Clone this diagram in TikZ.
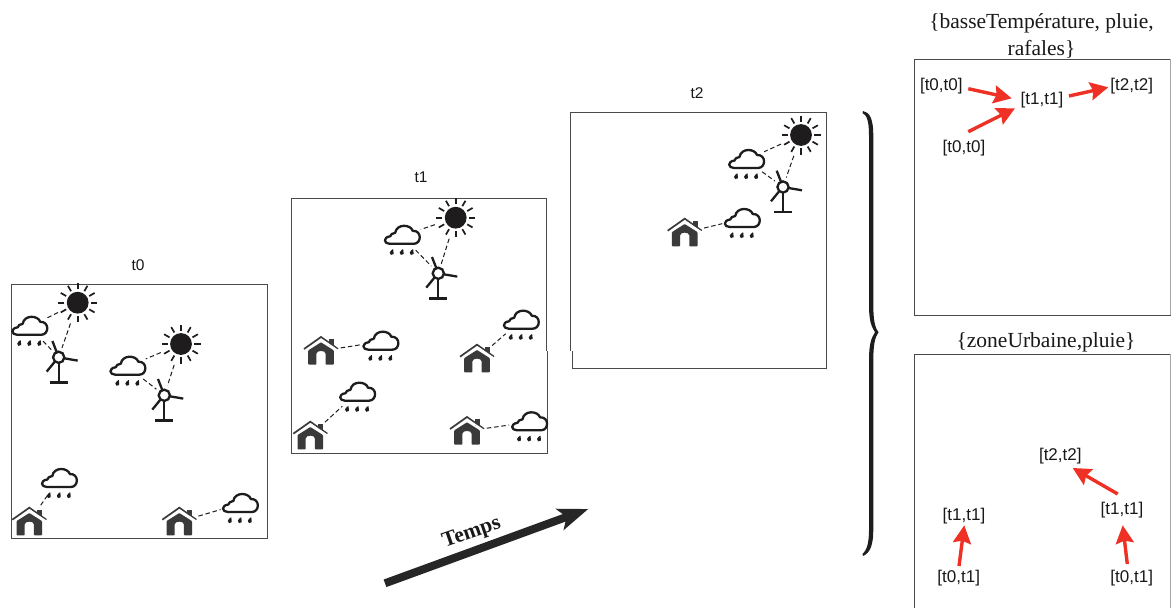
\documentclass[tikz,border=0pt]{standalone}
\usepackage{fontspec}
\setmainfont{Liberation Serif}
\newfontfamily\helv{Liberation Sans}
\usetikzlibrary{arrows.meta}
\definecolor{redarrow}{HTML}{EE3124}
\definecolor{iconblack}{HTML}{1E1C1D}
\definecolor{housegrey}{HTML}{3A3A3A}
\definecolor{framegrey}{HTML}{4A4A4A}
\tikzset{
  hit/.style={circle,inner sep=0pt,outer sep=0pt},
  frameline/.style={draw=framegrey,line width=1pt},
  link/.style={draw=iconblack,line width=1pt,dash pattern=on 4.5pt off 2.8pt},
  stamp/.style={font=\helv\fontsize{15.5}{17}\selectfont,text=black!90,inner sep=0pt},
  pairlabel/.style={font=\helv\fontsize{17}{19}\selectfont,text=black!90,inner sep=0pt,text height=14pt,text depth=3.2pt},
  settitle/.style={font=\fontsize{21.5}{26.5}\selectfont,text=black!90,inner sep=0pt,align=center},
  redlink/.style={draw=redarrow,line width=3.4pt,-{Stealth[length=18pt,width=18pt,inset=2.5pt]}},
  sunicon/.pic={
    \fill[iconblack] (0,0) circle (10.9);
    \foreach \a in {0,30,...,330}{\draw[iconblack,line width=1.7pt] (\a:13.3) -- (\a:19.5);}
  },
  cloudicon/.pic={
    \draw[iconblack,line width=2.3pt,line join=round]
      (-12,8) -- (12,8) .. controls (20,8) and (20.5,-5.5) .. (11,-5)
      .. controls (9,-11.5) and (-5,-12.5) .. (-6.5,-3)
      .. controls (-9.5,-3) and (-11,-1) .. (-11.5,0.5)
      .. controls (-19,1.5) and (-18,8) .. (-12,8) -- cycle;
    \foreach \d in {-10,0,10}{
      \fill[iconblack] (\d+1.4,13.2) .. controls (\d+0.9,15) and (\d+2.7,16.5) .. (\d+1.9,18.2)
        .. controls (\d+0.6,20.2) and (\d-2.6,19) .. (\d-2,16.8) .. controls (\d-1.6,15.4) and (\d,14) .. (\d+1.4,13.2) -- cycle;
    }
  },
  windicon/.pic={
    \draw[iconblack,line width=2.3pt] (0,6) -- (0,25) (-9,25.3) -- (9,25.3);
    \draw[iconblack,line width=2.3pt] (-2,-5.2) -- (-6.3,-16.3) (5.5,1) -- (19,3.3) (-4,4.5) -- (-12,14.3);
    \draw[iconblack,line width=2.3pt,fill=white] (0,0) circle (5.6);
  },
  houseicon/.pic={
    \draw[housegrey,line width=1.7pt] (-17,-2) -- (0,-14) -- (17,-2);
    \fill[housegrey] (8,-12) rectangle (13,-5.5);
    \draw[white,line width=1.4pt] (0,-11.9) -- (17,-0.5);
    \fill[housegrey,rounded corners=0.8pt] (0,-8.7) -- (12.8,-0.6) -- (12.8,13.7) -- (4.6,13.7) -- (4.6,3.5)
      .. controls (4.6,-1) and (-4.6,-1) .. (-4.6,3.5) -- (-4.6,13.7) -- (-12.8,13.7) -- (-12.8,-0.6) -- cycle;
  },
}
\newcommand\sunat[2]{\node[hit,minimum size=44pt] (#1) at (#2) {}; \pic at (#2) {sunicon};}
\newcommand\cloudat[2]{\node[hit,minimum size=40pt] (#1) at (#2) {}; \pic at (#2) {cloudicon};}
\newcommand\windat[2]{\node[hit,minimum size=20pt] (#1) at (#2) {}; \pic at (#2) {windicon};}
\newcommand\houseat[2]{\node[hit,minimum size=40pt] (#1) at (#2) {}; \pic at (#2) {houseicon};}
\begin{document}
\begin{tikzpicture}[x=1pt,y=-1pt]
\useasboundingbox (0,0) rectangle (1171,608);
\fill[white] (0,0) rectangle (1171,608);
% frames
\draw[frameline] (11.3,284) rectangle (267.3,538.7);
\draw[frameline] (546,350.7) -- (546,198.7) -- (291.3,198.7) -- (291.3,453.7) -- (547.3,453.7) -- (547.3,350.7);
\draw[frameline] (570.3,350.7) -- (570.3,112.7) -- (826,112.7) -- (826,368) -- (572,368) -- (572,350.7);
\draw[frameline] (1170.6,59.3) -- (914.5,59.3) -- (914.5,315) -- (1170.6,315);
\draw[black!35,line width=1pt] (1170.6,59.3) -- (1170.6,315);
\draw[frameline] (914.5,608) -- (914.5,354.3) -- (1170.6,354.3);
\draw[black!35,line width=1pt] (1170.6,354.3) -- (1170.6,608);
% stamps
\node[stamp] (lt0) at (138,265) {t0};
\node[stamp] (lt1) at (421,177) {t1};
\node[stamp] (lt2) at (697,93) {t2};
% t0 icons
\sunat{sa}{77.7,302.7}
\sunat{sb}{181,344}
\cloudat{ca}{29.2,326.8}
\cloudat{cb}{127.3,366.7}
\cloudat{cc}{58.8,479}
\cloudat{cd}{239.8,504}
\windat{wa}{58.7,357.3}
\windat{wb}{164.3,395.3}
\houseat{ha}{29.3,521.7}
\houseat{hb}{179.3,521.7}
\draw[link] (sa) -- (ca);
\draw[link] (sa) -- (wa);
\draw[link] (ca) -- (wa);
\draw[link] (sb) -- (cb);
\draw[link] (sb) -- (wb);
\draw[link] (cb) -- (wb);
\draw[link] (ha) -- (cc);
\draw[link] (hb) -- (cd);
% t1 icons
\sunat{sc}{455.7,217.7}
\cloudat{ce}{401.7,235.8}
\windat{wc}{438.3,273.3}
\houseat{hc}{321,351}
\cloudat{cf}{380.3,341.7}
\houseat{hd}{477,358.7}
\cloudat{cg}{520.7,320.7}
\houseat{he}{310.3,435.7}
\cloudat{ch}{357,392.7}
\houseat{hf}{467,431}
\cloudat{ci}{529,422.3}
\draw[link] (sc) -- (ce);
\draw[link] (sc) -- (wc);
\draw[link] (ce) -- (wc);
\draw[link] (hc) -- (cf);
\draw[link] (hd) -- (cg);
\draw[link] (he) -- (ch);
\draw[link] (hf) -- (ci);
% t2 icons
\sunat{sd}{801,135}
\cloudat{cj}{746,160}
\windat{wd}{783,187}
\houseat{hg}{684.7,232.7}
\cloudat{ck}{741.7,219}
\draw[link] (sd) -- (cj);
\draw[link] (sd) -- (wd);
\draw[link] (cj) -- (wd);
\draw[link] (hg) -- (ck);
% time arrow
\coordinate (tstart) at (385,583.3);
\coordinate (tend) at (588.3,509);
\draw[line width=8pt,-{Stealth[length=30pt,width=22pt,inset=7pt]},color=black!85] (tstart) -- (tend);
\node[font=\bfseries\fontsize{21.5}{23}\selectfont,text=black!90,rotate=19,inner sep=0pt] (temps) at (471.7,533.5) {Temps};
% brace
\fill[iconblack] (863,111) .. controls (870,112) and (873.3,120) .. (873.3,135) -- (873.3,305)
  .. controls (873.3,320) and (875,328) .. (878.5,332.3) .. controls (875,337) and (873.3,345) .. (873.3,360)
  -- (873.3,530) .. controls (873.3,545) and (870,553) .. (863,556) -- (862.5,554)
  .. controls (866,551) and (869,545) .. (869,530) -- (869,360)
  .. controls (869,345) and (871,338) .. (875,332.3) .. controls (871,326) and (869,320) .. (869,305)
  -- (869,135) .. controls (869,122) and (867,115) .. (862.5,113) -- cycle;
% titles
\node[settitle] (titlea) at (1041.5,36) {\{basseTempérature, pluie,\\rafales\}};
\node[settitle] (titleb) at (1046,342) {\{zoneUrbaine,pluie\}};
% pair labels top
\node[pairlabel] (pa) at (941.3,85) {[t0,t0]};
\node[pairlabel] (pb) at (1042,99.3) {[t1,t1]};
\node[pairlabel] (pc) at (1131.7,85) {[t2,t2]};
\node[pairlabel] (pd) at (964,146.7) {[t0,t0]};
\draw[redlink] ([shift={(27,3.7)}]pa.center) -- ([shift={(-30.3,-1)}]pb.center);
\draw[redlink] ([shift={(4.3,-15)}]pd.center) -- ([shift={(-27,9)}]pb.center);
\draw[redlink] ([shift={(27,-3.3)}]pb.center) -- ([shift={(-23.4,2.3)}]pc.center);
% pair labels bottom
\node[pairlabel] (qa) at (1060.3,455.3) {[t2,t2]};
\node[pairlabel] (qb) at (1122,509.3) {[t1,t1]};
\node[pairlabel] (qc) at (964,515) {[t1,t1]};
\node[pairlabel] (qd) at (958.7,576.7) {[t0,t1]};
\node[pairlabel] (qe) at (1131.7,577.3) {[t0,t1]};
\draw[redlink] ([shift={(-4.3,-15.3)}]qb.center) -- ([shift={(12.4,12.7)}]qa.center);
\draw[redlink] ([shift={(-4.4,-13.3)}]qe.center) -- ([shift={(0.7,16)}]qb.center);
\draw[redlink] ([shift={(0.3,-10.7)}]qd.center) -- ([shift={(0.3,10.3)}]qc.center);
\end{tikzpicture}
\end{document}
